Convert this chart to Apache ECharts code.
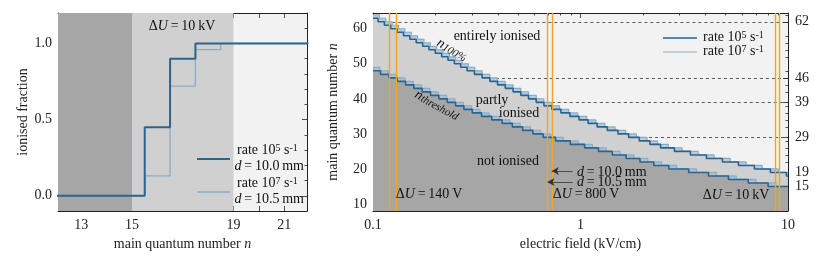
<!DOCTYPE html>
<html><head><meta charset="utf-8">
<script src="https://cdn.jsdelivr.net/npm/echarts@6/dist/echarts.min.js"></script>
<style>html,body{margin:0;padding:0;background:#fff}#c{width:830px;height:258px}</style>
</head><body><div id="c"></div>
<script>
// ---------------- data: left panel ----------------
const nValues   = [12, 13, 14, 15, 16, 17, 18, 19, 20, 21, 22];
const fracRate5 = [0, 0, 0, 0, 0.45, 0.90, 1.00, 1.00, 1.00, 1.00, 1.00];
const fracRate7 = [0, 0, 0, 0, 0.13, 0.72, 0.96, 1.00, 1.00, 1.00, 1.00];
const leftShadeEdges  = [15, 19];
const leftXTicks      = [13, 14, 15, 16, 17, 18, 19, 20, 21];
const leftXTickLabels = [13, 15, 19, 21];
const leftYTickLabels = [0, 0.5, 1.0];
const leftYMinorTicks = [-0.1, 0.1, 0.2, 0.3, 0.4, 0.6, 0.7, 0.8, 0.9, 1.1, 1.2];

// ---------------- data: right panel (staircases) ----------------
const upperRate5Field = [0.1, 0.1058, 0.1135, 0.1218, 0.1307, 0.1403, 0.1505, 0.1615, 0.1734, 0.1860, 0.1996, 0.2142, 0.2298, 0.2466, 0.2646, 0.2839, 0.3080, 0.3355, 0.3656, 0.3983, 0.4340, 0.4730, 0.5152, 0.5615, 0.6115, 0.6665, 0.7272, 0.8043, 0.8894, 0.9835, 1.088, 1.203, 1.347, 1.516, 1.706, 1.920, 2.161, 2.432, 2.836, 3.387, 4.045, 4.831, 5.770, 6.889, 8.225, 9.824, 10];
const upperRate5N     = [63, 62, 61, 60, 59, 58, 57, 56, 55, 54, 53, 52, 51, 50, 49, 48, 47, 46, 45, 44, 43, 42, 41, 40, 39, 38, 37, 36, 35, 34, 33, 32, 31, 30, 29, 28, 27, 26, 25, 24, 23, 22, 21, 20, 19, 18, 18];
const upperRate7Field = [0.1, 0.1075, 0.1153, 0.1237, 0.1328, 0.1425, 0.1529, 0.1640, 0.1760, 0.1890, 0.2027, 0.2176, 0.2335, 0.2505, 0.2688, 0.2884, 0.3095, 0.3357, 0.3657, 0.3985, 0.4341, 0.4731, 0.5156, 0.5616, 0.6120, 0.6665, 0.7265, 0.7926, 0.8767, 0.9694, 1.072, 1.186, 1.311, 1.468, 1.652, 1.860, 2.093, 2.355, 2.651, 3.091, 3.692, 4.409, 5.266, 6.289, 7.509, 8.965, 10];
const upperRate7N     = [64, 63, 62, 61, 60, 59, 58, 57, 56, 55, 54, 53, 52, 51, 50, 49, 48, 47, 46, 45, 44, 43, 42, 41, 40, 39, 38, 37, 36, 35, 34, 33, 32, 31, 30, 29, 28, 27, 26, 25, 24, 23, 22, 21, 20, 19, 19];
const lowerRate5Field = [0.1, 0.1087, 0.1192, 0.1308, 0.1435, 0.1573, 0.1726, 0.1894, 0.2077, 0.2279, 0.2500, 0.2742, 0.3008, 0.3335, 0.3737, 0.4190, 0.4696, 0.5262, 0.5900, 0.6611, 0.7591, 0.8928, 1.047, 1.221, 1.423, 1.660, 1.935, 2.255, 2.665, 3.322, 4.141, 5.163, 6.434, 8.021, 10];
const lowerRate5N     = [48, 47, 46, 45, 44, 43, 42, 41, 40, 39, 38, 37, 36, 35, 34, 33, 32, 31, 30, 29, 28, 27, 26, 25, 24, 23, 22, 21, 20, 19, 18, 17, 16, 15, 15];
const lowerRate7Field = [0.1, 0.1080, 0.1185, 0.1299, 0.1426, 0.1564, 0.1715, 0.1881, 0.2064, 0.2264, 0.2484, 0.2725, 0.2989, 0.3279, 0.3635, 0.4073, 0.4567, 0.5119, 0.5736, 0.6431, 0.7206, 0.8274, 0.9732, 1.141, 1.331, 1.551, 1.809, 2.109, 2.458, 2.905, 3.621, 4.514, 5.628, 7.013, 8.743, 10];
const lowerRate7N     = [49, 48, 47, 46, 45, 44, 43, 42, 41, 40, 39, 38, 37, 36, 35, 34, 33, 32, 31, 30, 29, 28, 27, 26, 25, 24, 23, 22, 21, 20, 19, 18, 17, 16, 15, 15];

const voltageFields   = [0.1212, 0.1273, 0.6926, 0.7273, 8.658, 9.091];
const dashLevels      = [62, 46, 39, 29];
const dashStartFields = [0.124, 0.118, 0.727, 0.69];
const arrowLevels     = [19.4, 16.3];
const arrowFromField  = 0.917;
const arrowToFields   = [0.7273, 0.6926];
const rightYTickLabels  = [10, 20, 30, 40, 50, 60];
const rightY2TickLabels = [62, 46, 39, 29, 19, 15];
const rightYMinorTicks  = [8, 12, 14, 16, 18, 22, 24, 26, 28, 32, 34, 36, 38, 42, 44, 46, 48, 52, 54, 56, 58, 62, 64];
const fieldMinorTicks   = [0.2, 0.3, 0.4, 0.5, 0.6, 0.7, 0.8, 0.9, 2, 3, 4, 5, 6, 7, 8, 9];

// ---------------- styles ----------------
const FONT = "'Liberation Serif','DejaVu Serif',serif";
const DARK = '#2a6591', LIGHT = '#86aecb';
const GRAY_D = '#a6a6a6', GRAY_M = '#d0d0d0', GRAY_L = '#f2f2f2';
const AX = '#222';
const labelStyle = {fontFamily: FONT, fontSize: 14, color: '#222'};

function zip(xs, ys) { return xs.map((x, i) => [x, ys[i]]); }

function axisBase(extra) {
  return Object.assign({
    axisLine: {show: true, onZero: false, lineStyle: {color: AX, width: 1}},
    splitLine: {show: false},
    axisLabel: {show: false},
  }, extra);
}
function minorAxis(extra, vals) {
  return Object.assign({
    axisLine: {show: false, onZero: false},
    splitLine: {show: false},
    axisLabel: {show: false},
    axisTick: {show: true, inside: true, length: 2.5, lineStyle: {color: AX, width: 0.8}, customValues: vals}
  }, extra);
}
const majorTick = vals => ({show: true, inside: true, length: 5, lineStyle: {color: AX, width: 0.8}, customValues: vals});

const nameRich = {i: {fontFamily: FONT, fontSize: 14, fontStyle: 'italic', color: '#222'}};

const xAxis = [
  // 0 left bottom
  axisBase({gridIndex: 0, type: 'value', min: 12.08, max: 21.9, position: 'bottom',
    axisTick: majorTick(leftXTicks),
    axisLabel: Object.assign({show: true, margin: 7, customValues: leftXTickLabels}, labelStyle),
    name: 'main quantum number {i|n}', nameLocation: 'middle', nameGap: 24,
    nameTextStyle: Object.assign({rich: nameRich}, labelStyle)}),
  // 1 left top
  axisBase({gridIndex: 0, type: 'value', min: 12.08, max: 21.9, position: 'top', axisTick: majorTick(leftXTicks)}),
  // 2 right bottom (log)
  axisBase({gridIndex: 1, type: 'log', logBase: 10, min: 0.1, max: 10, position: 'bottom',
    axisTick: {show: true, inside: true, length: 5, lineStyle: {color: AX, width: 0.8}},
    axisLabel: Object.assign({show: true, margin: 7, formatter: v => String(v)}, labelStyle),
    name: 'electric field (kV/cm)', nameLocation: 'middle', nameGap: 24, nameTextStyle: labelStyle}),
  // 3 right top (log)
  axisBase({gridIndex: 1, type: 'log', logBase: 10, min: 0.1, max: 10, position: 'top',
    axisTick: {show: true, inside: true, length: 5, lineStyle: {color: AX, width: 0.8}}}),
  // 4,5 minor log ticks (helper, log10 space)
  minorAxis({gridIndex: 1, type: 'value', min: -1, max: 1, position: 'bottom'}, fieldMinorTicks.map(Math.log10)),
  minorAxis({gridIndex: 1, type: 'value', min: -1, max: 1, position: 'top'}, fieldMinorTicks.map(Math.log10)),
];

const yAxis = [
  // 0 left panel left
  axisBase({gridIndex: 0, type: 'value', min: -0.1, max: 1.2, position: 'left',
    axisTick: majorTick(leftYTickLabels),
    axisLabel: Object.assign({show: true, margin: 6, customValues: leftYTickLabels, formatter: v => v.toFixed(1)}, labelStyle),
    name: 'ionised fraction', nameLocation: 'middle', nameGap: 27, nameTextStyle: labelStyle}),
  // 1 left panel right
  axisBase({gridIndex: 0, type: 'value', min: -0.1, max: 1.2, position: 'right', axisTick: majorTick(leftYTickLabels)}),
  // 2,3 minor
  minorAxis({gridIndex: 0, type: 'value', min: -0.1, max: 1.2, position: 'left'}, leftYMinorTicks),
  minorAxis({gridIndex: 0, type: 'value', min: -0.1, max: 1.2, position: 'right'}, leftYMinorTicks),
  // 4 right panel left
  axisBase({gridIndex: 1, type: 'value', min: 8, max: 64.5, position: 'left',
    axisTick: majorTick(rightYTickLabels),
    axisLabel: Object.assign({show: true, margin: 6, customValues: rightYTickLabels}, labelStyle),
    name: 'main quantum number {i|n}', nameLocation: 'middle', nameGap: 33,
    nameTextStyle: Object.assign({rich: nameRich}, labelStyle)}),
  // 5 right panel right
  axisBase({gridIndex: 1, type: 'value', min: 8, max: 64.5, position: 'right',
    axisTick: majorTick(rightY2TickLabels),
    axisLabel: Object.assign({show: true, margin: 7, customValues: rightY2TickLabels}, labelStyle)}),
  // 6,7 minor
  minorAxis({gridIndex: 1, type: 'value', min: 8, max: 64.5, position: 'left'}, rightYMinorTicks),
  minorAxis({gridIndex: 1, type: 'value', min: 8, max: 64.5, position: 'right'}, rightYMinorTicks),
];

const R = {xAxisIndex: 2, yAxisIndex: 4};
function areaSeries(field, levels, color) {
  return Object.assign({type: 'line', step: 'end', data: zip(field, levels), showSymbol: false, silent: true,
    lineStyle: {width: 0, opacity: 0}, areaStyle: {color: color, opacity: 1, origin: 'start'}}, R);
}
function stairSeries(field, levels, color, width) {
  return Object.assign({type: 'line', step: 'end', data: zip(field, levels), showSymbol: false, silent: true,
    lineStyle: {color: color, width: width}}, R);
}

const series = [
  // ---- left panel ----
  {type: 'line', xAxisIndex: 0, yAxisIndex: 0, step: 'middle', data: zip(nValues, fracRate7), showSymbol: false, silent: true,
   lineStyle: {color: LIGHT, width: 1.3}, z: 3,
   markArea: {silent: true, z: 1, data: [
     [{xAxis: 12.08, itemStyle: {color: GRAY_D}}, {xAxis: leftShadeEdges[0]}],
     [{xAxis: leftShadeEdges[0], itemStyle: {color: GRAY_M}}, {xAxis: leftShadeEdges[1]}]
   ]}},
  {type: 'line', xAxisIndex: 0, yAxisIndex: 0, step: 'middle', data: zip(nValues, fracRate5), showSymbol: false, silent: true,
   lineStyle: {color: DARK, width: 2}, z: 4},
  // ---- right panel: regions ----
  areaSeries(upperRate7Field, upperRate7N, '#bccbd8'),
  areaSeries(upperRate5Field, upperRate5N, GRAY_M),
  areaSeries(lowerRate7Field, lowerRate7N, '#b0bfcc'),
  areaSeries(lowerRate5Field, lowerRate5N, GRAY_D),
  // dashed guide lines
  Object.assign({type: 'line', data: [], silent: true,
    markLine: {silent: true, symbol: 'none', z: 3, label: {show: false},
      lineStyle: {color: '#333', width: 0.8, type: [3, 3]},
      data: dashLevels.map((n, i) => [{coord: [dashStartFields[i], n]}, {coord: [10, n]}])}}, R),
  // ---- staircase lines ----
  stairSeries(upperRate7Field, upperRate7N, LIGHT, 1.2),
  stairSeries(lowerRate7Field, lowerRate7N, LIGHT, 1.2),
  stairSeries(upperRate5Field, upperRate5N, DARK, 1.6),
  stairSeries(lowerRate5Field, lowerRate5N, DARK, 1.6),
  // orange voltage lines + arrows
  Object.assign({type: 'line', data: [], silent: true, z: 6,
    markLine: {silent: true, symbol: 'none', label: {show: false}, z: 6,
      lineStyle: {color: '#f3a712', width: 1.4, type: 'solid'},
      data: voltageFields.map(f => ({xAxis: f}))}}, R),
  Object.assign({type: 'line', data: [], silent: true, z: 7,
    markLine: {silent: true, label: {show: false}, z: 7, symbolSize: [6, 7],
      lineStyle: {color: '#333', width: 0.8, type: 'solid'},
      data: arrowLevels.map((n, i) => [{coord: [arrowFromField, n], symbol: 'none'}, {coord: [arrowToFields[i], n], symbol: 'arrow'}])}}, R),
];

// ---------------- annotations ----------------
const rich = {
  i:   {fontFamily: FONT, fontSize: 14, fontStyle: 'italic', fill: '#111'},
  sup: {fontFamily: FONT, fontSize: 10, verticalAlign: 'top', fill: '#111'},
  sub: {fontFamily: FONT, fontSize: 11, fontStyle: 'italic', verticalAlign: 'bottom', fill: '#111'}
};
function txt(x, y, text, align, rot) {
  return {type: 'text', x: x, y: y, rotation: rot || 0, silent: true, z: 100,
    style: {text: text, font: '14px ' + FONT, fill: '#111', align: align || 'center', textAlign: align || 'center',
      verticalAlign: 'middle', textVerticalAlign: 'middle', rich: rich}};
}
function seg(x1, y1, x2, y2, color, w) {
  return {type: 'line', silent: true, z: 100, shape: {x1: x1, y1: y1, x2: x2, y2: y2}, style: {stroke: color, lineWidth: w}};
}
const TS = '\u2009';
const graphic = [
  txt(182, 26, 'Δ{i|U}' + TS + '=' + TS + '10' + TS + 'kV'),
  seg(197, 159, 230, 159, DARK, 2),
  seg(197, 192, 230, 192, LIGHT, 1.3),
  txt(237, 150, 'rate 10{sup|5} s{sup|-1}', 'left'),
  txt(304, 166, '{i|d}' + TS + '=' + TS + '10.0' + TS + 'mm', 'right'),
  txt(237, 183, 'rate 10{sup|7} s{sup|-1}', 'left'),
  txt(304, 199, '{i|d}' + TS + '=' + TS + '10.5' + TS + 'mm', 'right'),

  txt(497, 36, 'entirely ionised'),
  txt(492, 100, 'partly'),
  txt(519, 113, 'ionised'),
  txt(508, 161, 'not ionised'),
  txt(452, 50, '{i|n}{sub|100%}', 'center', -0.52),
  txt(437, 105, '{i|n}{sub|threshold}', 'center', -0.5),
  txt(429, 194, 'Δ{i|U}' + TS + '=' + TS + '140' + TS + 'V'),
  txt(586, 194, 'Δ{i|U}' + TS + '=' + TS + '800' + TS + 'V'),
  txt(736, 195, 'Δ{i|U}' + TS + '=' + TS + '10' + TS + 'kV'),
  txt(577, 172, '{i|d}' + TS + '=' + TS + '10.0' + TS + 'mm', 'left'),
  txt(577, 182, '{i|d}' + TS + '=' + TS + '10.5' + TS + 'mm', 'left'),

  seg(663, 38, 697, 38, DARK, 1.6),
  seg(663, 52, 697, 52, LIGHT, 1.2),
  txt(703, 37, 'rate 10{sup|5} s{sup|-1}', 'left'),
  txt(703, 51, 'rate 10{sup|7} s{sup|-1}', 'left'),
];

const chart = echarts.init(document.getElementById('c'), null, {renderer: 'canvas'});
chart.setOption({
  animation: false,
  backgroundColor: '#fff',
  grid: [
    {left: 58, top: 13, width: 249, height: 198, show: true, backgroundColor: GRAY_L, borderWidth: 0, containLabel: false, outerBoundsMode: 'none'},
    {left: 373, top: 13, width: 415, height: 198, show: true, backgroundColor: GRAY_L, borderWidth: 0, containLabel: false, outerBoundsMode: 'none'}
  ],
  xAxis: xAxis,
  yAxis: yAxis,
  series: series,
  graphic: graphic
});
</script></body></html>
